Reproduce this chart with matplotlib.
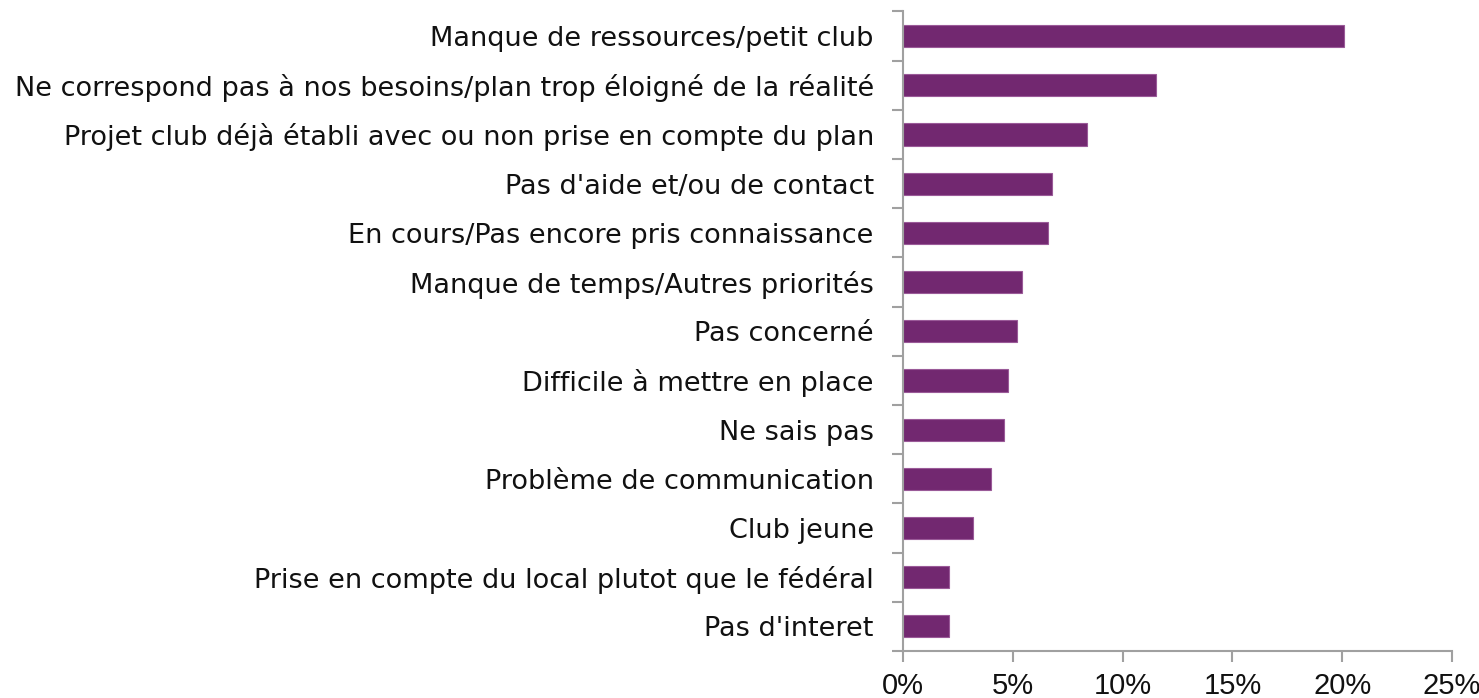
import matplotlib
matplotlib.use("Agg")
import matplotlib.pyplot as plt
from matplotlib.ticker import FuncFormatter, FixedLocator, NullFormatter

categories = [
    "Manque de ressources/petit club",
    "Ne correspond pas à nos besoins/plan trop éloigné de la réalité",
    "Projet club déjà établi avec ou non prise en compte du plan",
    "Pas d'aide et/ou de contact",
    "En cours/Pas encore pris connaissance",
    "Manque de temps/Autres priorités",
    "Pas concerné",
    "Difficile à mettre en place",
    "Ne sais pas",
    "Problème de communication",
    "Club jeune",
    "Prise en compte du local plutot que le fédéral",
    "Pas d'interet",
]
values = [20.1, 11.5, 8.4, 6.8, 6.6, 5.4, 5.2, 4.8, 4.6, 4.0, 3.2, 2.1, 2.1]
xticks = [0, 5, 10, 15, 20, 25]

plt.rcParams['font.family'] = ['DejaVu Sans']

fig = plt.figure(figsize=(14.79, 6.98), dpi=100)
ax = fig.add_axes([903/1479, 1 - 651/698, (1452-903)/1479, (651-11.5)/698])

n = len(categories)
ypos = list(range(n))
ax.barh(ypos, values, height=0.45, color="#722870", edgecolor="#9a5a98", linewidth=0.8)
ax.set_ylim(n - 0.5, -0.5)
ax.set_xlim(0, 25)

ax.set_yticks(ypos)
ax.set_yticklabels(categories, fontsize=19.5, color="#111111")
ax.tick_params(axis='y', which='major', length=0, pad=21)
ax.yaxis.set_minor_locator(FixedLocator([i - 0.5 for i in range(n + 1)]))
ax.yaxis.set_minor_formatter(NullFormatter())
ax.tick_params(axis='y', which='minor', length=8, width=1.5, color="#a0a0a0", direction='out')

ax.set_xticks(xticks)
ax.xaxis.set_major_formatter(FuncFormatter(lambda v, p: f"{int(v)}%"))
ax.tick_params(axis='x', length=8, width=1.5, color="#a0a0a0", direction='out', pad=7, labelcolor="#111111")
for lbl in ax.get_xticklabels():
    lbl.set_fontfamily(['Liberation Sans Narrow', 'Liberation Sans'])
    lbl.set_fontsize(21)

for s in ['top', 'right']:
    ax.spines[s].set_visible(False)
for s in ['left', 'bottom']:
    ax.spines[s].set_color("#a0a0a0")
    ax.spines[s].set_linewidth(1.5)

fig.savefig("out.png", dpi=100, facecolor="white")
